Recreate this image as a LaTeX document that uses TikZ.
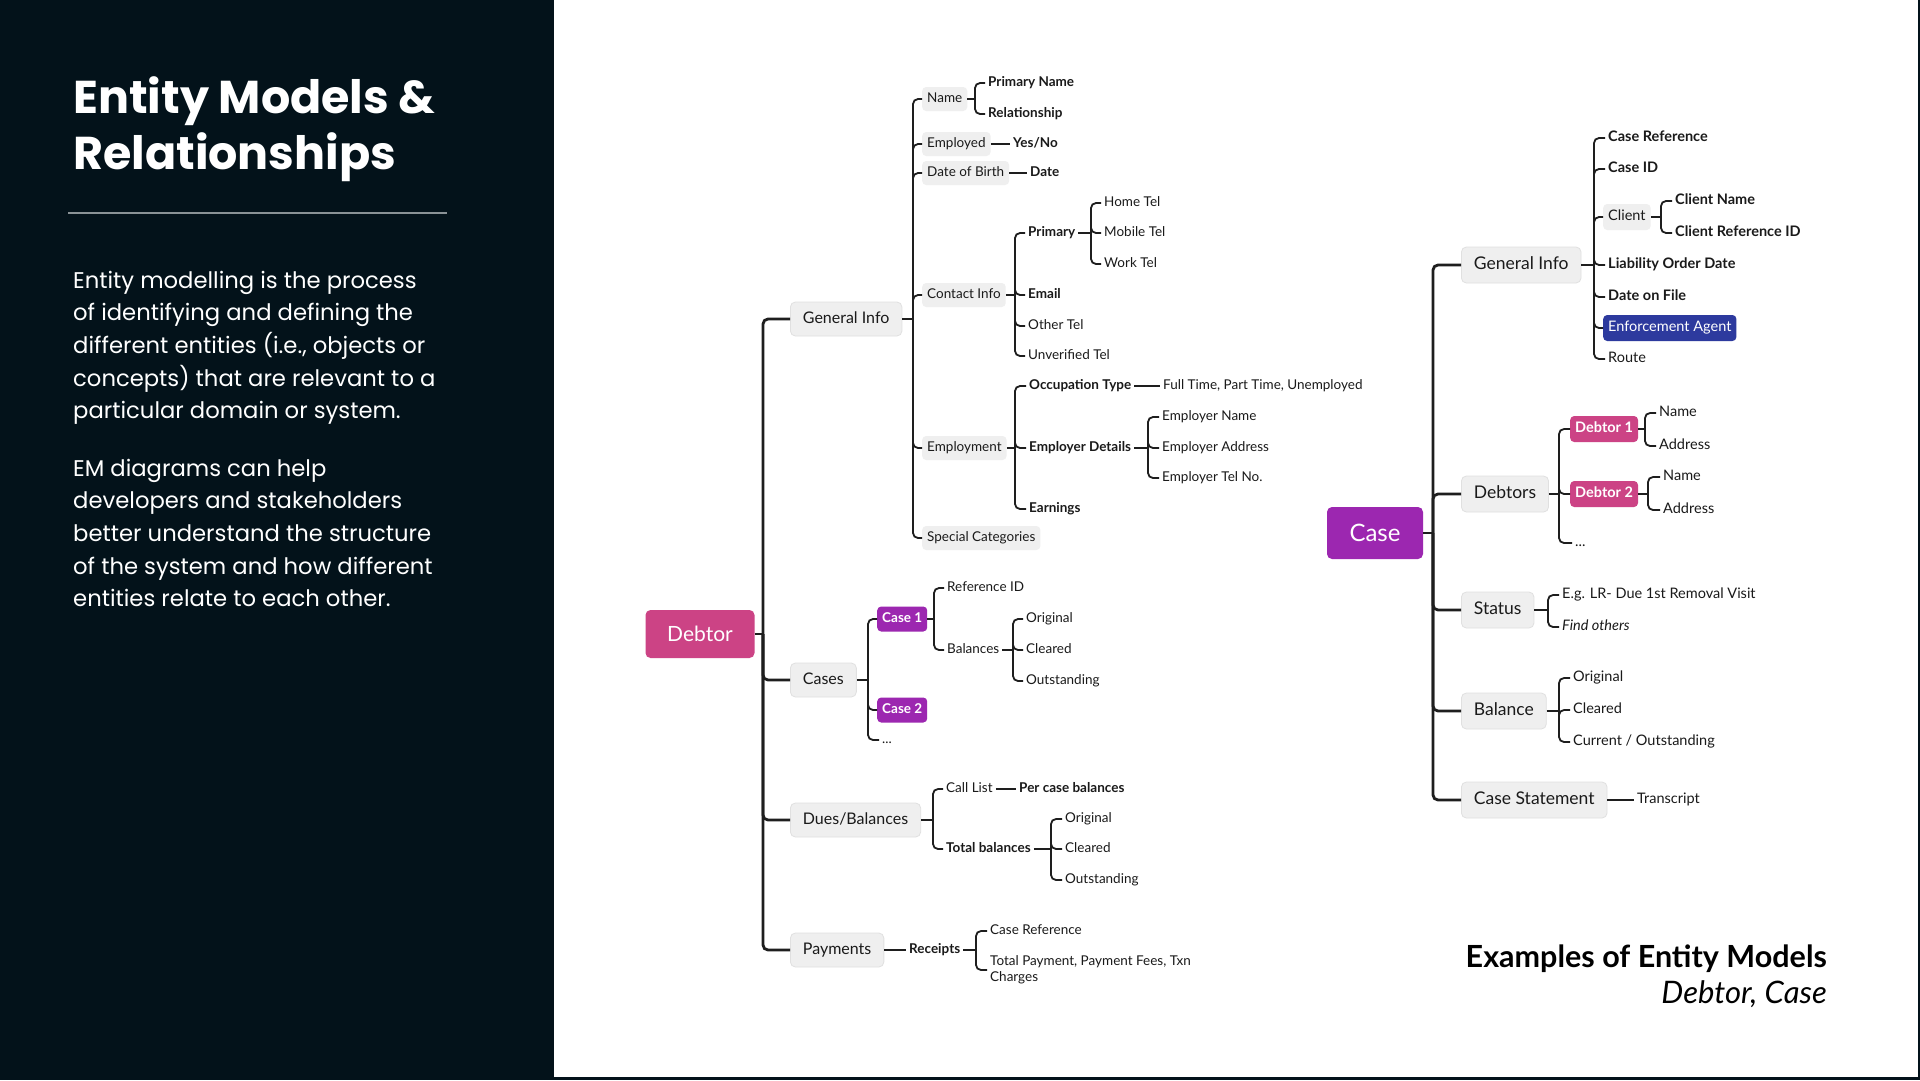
\documentclass[tikz,border=0pt]{standalone}
\usepackage{fontspec}
\setmainfont{Lato}
\newfontfamily\sidefont{Poppins}

\definecolor{panel}{HTML}{03121A}
\definecolor{debtorpink}{HTML}{CC4385}
\definecolor{casepurple}{HTML}{9C27B0}
\definecolor{agentblue}{HTML}{2D3A9E}
\definecolor{boxgray}{HTML}{EFEFEF}
\definecolor{boxline}{HTML}{E0E0E0}
\definecolor{linecol}{HTML}{1E1E1E}
\definecolor{rulegray}{HTML}{8A9296}
\definecolor{textdark}{HTML}{1A1A1A}

\begin{document}
\begin{tikzpicture}[x=1pt, y=-1pt,
	link/.style={draw=linecol, line width=1.8pt, rounded corners=5pt},
	trunk/.style={link, line width=2.8pt},
	rootbox/.style={rounded corners=5pt, text=white, font=\fontsize{21}{24}\selectfont},
	topicbox/.style={anchor=west, fill=boxgray, draw=boxline, line width=.8pt, rounded corners=5pt,
		minimum height=34pt, inner xsep=12.5pt, text=textdark, font=\fontsize{16}{19}\selectfont,
		text height=12pt, text depth=3.5pt},
	subtopic/.style={anchor=west, fill=boxgray, rounded corners=4pt, minimum height=24pt, inner xsep=5pt,
		text=textdark, font=\fontsize{13.5}{16}\selectfont, text height=10pt, text depth=3pt},
	leaf/.style={anchor=west, inner xsep=3pt, inner ysep=1pt, text=textdark,
		font=\fontsize{13.5}{16}\selectfont, text height=10pt, text depth=3pt},
	boldleaf/.style={leaf, font=\fontsize{13.5}{16}\selectfont\bfseries},
	tagbox/.style={anchor=west, rounded corners=4pt, text=white, minimum height=25pt, inner xsep=5pt,
		font=\fontsize{13.5}{16}\selectfont\bfseries, text height=10pt, text depth=3pt},
	sidebody/.style={anchor=base west, inner sep=0pt, text=white, font=\sidefont\fontsize{22.7}{33}\selectfont},
]

	% Page
	\useasboundingbox (0,0) rectangle (1920,1080);
	\fill[panel] (0,0) rectangle (1920,1080);
	\fill[white] (554,0) rectangle (1918,1077);

	% Side panel
	\node[anchor=base west, inner sep=0pt, text=white, font=\sidefont\bfseries\fontsize{46}{56}\selectfont] (title1) at (73,113) {Entity Models \&};
	\node[anchor=base west, inner sep=0pt, text=white, font=\sidefont\bfseries\fontsize{46}{56}\selectfont] (title2) at (73,169) {Relationships};
	\draw[rulegray, line width=1.5pt] (68,213) -- (447,213);
	\foreach \t [count=\i] in {Entity modelling is the process, of identifying and defining the,
		{different entities (i.e., objects or}, concepts) that are relevant to a, particular domain or system.} {
		\node[sidebody] (pa\i) at (73,{288+32.7*(\i-1)}) {\t};
	}
	\foreach \t [count=\i] in {EM diagrams can help, developers and stakeholders, better understand the structure,
		of the system and how different, entities relate to each other.} {
		\node[sidebody] (pb\i) at (73,{476+32.7*(\i-1)}) {\t};
	}

	% Debtor model
	\node[rootbox, fill=debtorpink, minimum width=109pt, minimum height=48pt] (debtor) at (700,634) {Debtor};
	\coordinate (debtor-b) at (763,634);
	\node[topicbox] (gi) at (790,319) {General Info};
	\node[topicbox] (cases) at (790,680) {Cases};
	\node[topicbox] (dues) at (790,820) {Dues/Balances};
	\node[topicbox] (pay) at (790,950) {Payments};
	\draw[trunk] (debtor.east) -- (debtor-b);
	\foreach \c in {gi,cases,dues,pay} {
		\draw[trunk] (debtor-b) |- (\c.west);
	}

	% General Info
	\coordinate (gi-b) at (913,319);
	\node[subtopic] (name) at (922,99) {Name};
	\node[subtopic] (empd) at (922,144) {Employed};
	\node[subtopic] (dob) at (922,173) {Date of Birth};
	\node[subtopic] (cinfo) at (922,295) {Contact Info};
	\node[subtopic] (empl) at (922,448) {Employment};
	\node[subtopic] (spec) at (922,538) {Special Categories};
	\draw[link] (gi.east) -- (gi-b);
	\foreach \c in {name,empd,dob,cinfo,empl,spec} {
		\draw[link] (gi-b) |- (\c.west);
	}

	\coordinate (name-b) at (975,99);
	\node[boldleaf] (pname) at (985,83) {Primary Name};
	\node[boldleaf] (rel) at (985,114) {Relationship};
	\draw[link] (name.east) -- (name-b);
	\foreach \c in {pname,rel} {
		\draw[link] (name-b) |- (\c.west);
	}
	\node[boldleaf] (yesno) at (1010,144) {Yes/No};
	\draw[link] (empd.east) -- (yesno.west);
	\node[boldleaf] (date) at (1027,173) {Date};
	\draw[link] (dob.east) -- (date.west);

	\coordinate (cinfo-b) at (1015,295);
	\node[boldleaf] (prim) at (1025,233) {Primary};
	\node[boldleaf] (email) at (1025,295) {Email};
	\node[leaf] (otel) at (1025,326) {Other Tel};
	\node[leaf] (utel) at (1025,356) {Unverified Tel};
	\draw[link] (cinfo.east) -- (cinfo-b);
	\foreach \c in {prim,email,otel,utel} {
		\draw[link] (cinfo-b) |- (\c.west);
	}
	\coordinate (prim-b) at (1091,233);
	\node[leaf] (htel) at (1101,203) {Home Tel};
	\node[leaf] (mtel) at (1101,233) {Mobile Tel};
	\node[leaf] (wtel) at (1101,264) {Work Tel};
	\draw[link] (prim.east) -- (prim-b);
	\foreach \c in {htel,mtel,wtel} {
		\draw[link] (prim-b) |- (\c.west);
	}

	\coordinate (empl-b) at (1015,448);
	\node[boldleaf] (occ) at (1026,386) {Occupation Type};
	\node[boldleaf] (edet) at (1026,448) {Employer Details};
	\node[boldleaf] (earn) at (1026,509) {Earnings};
	\draw[link] (empl.east) -- (empl-b);
	\foreach \c in {occ,edet,earn} {
		\draw[link] (empl-b) |- (\c.west);
	}
	\node[leaf] (ftime) at (1160,386) {Full Time, Part Time, Unemployed};
	\draw[link] (occ.east) -- (ftime.west);
	\coordinate (edet-b) at (1148,448);
	\node[leaf] (ename) at (1159,417) {Employer Name};
	\node[leaf] (eaddr) at (1159,448) {Employer Address};
	\node[leaf] (etel) at (1159,478) {Employer Tel No.};
	\draw[link] (edet.east) -- (edet-b);
	\foreach \c in {ename,eaddr,etel} {
		\draw[link] (edet-b) |- (\c.west);
	}

	% Cases
	\coordinate (cases-b) at (868,680);
	\node[tagbox, fill=casepurple] (case1) at (877,619) {Case 1};
	\node[tagbox, fill=casepurple] (case2) at (877,710) {Case 2};
	\node[leaf] (cmore) at (879,740) {...};
	\draw[link] (cases.east) -- (cases-b);
	\foreach \c in {case1,case2,cmore} {
		\draw[link] (cases-b) |- (\c.west);
	}
	\coordinate (case1-b) at (934,619);
	\node[leaf] (refid) at (944,588) {Reference ID};
	\node[leaf] (bal) at (944,650) {Balances};
	\draw[link] (case1.east) -- (case1-b);
	\foreach \c in {refid,bal} {
		\draw[link] (case1-b) |- (\c.west);
	}
	\coordinate (bal-b) at (1013,650);
	\node[leaf] (orig1) at (1023,619) {Original};
	\node[leaf] (clr1) at (1023,650) {Cleared};
	\node[leaf] (outs1) at (1023,681) {Outstanding};
	\draw[link] (bal.east) -- (bal-b);
	\foreach \c in {orig1,clr1,outs1} {
		\draw[link] (bal-b) |- (\c.west);
	}

	% Dues/Balances
	\coordinate (dues-b) at (933,820);
	\node[leaf] (call) at (943,789) {Call List};
	\node[boldleaf] (totb) at (943,849) {Total balances};
	\draw[link] (dues.east) -- (dues-b);
	\foreach \c in {call,totb} {
		\draw[link] (dues-b) |- (\c.west);
	}
	\node[boldleaf] (pcb) at (1016,789) {Per case balances};
	\draw[link] (call.east) -- (pcb.west);
	\coordinate (totb-b) at (1051,849);
	\node[leaf] (orig2) at (1062,819) {Original};
	\node[leaf] (clr2) at (1062,849) {Cleared};
	\node[leaf] (outs2) at (1062,880) {Outstanding};
	\draw[link] (totb.east) -- (totb-b);
	\foreach \c in {orig2,clr2,outs2} {
		\draw[link] (totb-b) |- (\c.west);
	}

	% Payments
	\node[boldleaf] (rcpt) at (906,950) {Receipts};
	\draw[link] (pay.east) -- (rcpt.west);
	\coordinate (rcpt-b) at (976,950);
	\node[leaf] (cref) at (987,931) {Case Reference};
	\node[leaf, align=left, text height=26pt] (tpay) at (987,970) {Total Payment, Payment Fees, Txn\\Charges};
	\draw[link] (rcpt.east) -- (rcpt-b);
	\foreach \c in {cref,tpay} {
		\draw[link] (rcpt-b) |- (\c.west);
	}

	% Case model
	\begin{scope}[
		topicbox/.append style={minimum height=36pt, font=\fontsize{17.5}{20}\selectfont},
		subtopic/.append style={minimum height=26pt, font=\fontsize{14.5}{17}\selectfont},
		leaf/.append style={font=\fontsize{14.5}{17}\selectfont},
		boldleaf/.append style={font=\fontsize{14.5}{17}\selectfont\bfseries},
		tagbox/.append style={minimum height=26pt, font=\fontsize{14.5}{17}\selectfont\bfseries},
	]
	\node[rootbox, fill=casepurple, minimum width=96pt, minimum height=52pt, font=\fontsize{24}{28}\selectfont] (case) at (1375,533) {Case};
	\coordinate (case-b) at (1433,533);
	\node[topicbox] (gi2) at (1461,265) {General Info};
	\node[topicbox] (dbts) at (1461,494) {Debtors};
	\node[topicbox] (stat) at (1461,610) {Status};
	\node[topicbox] (balc) at (1461,711) {Balance};
	\node[topicbox] (cstat) at (1461,800) {Case Statement};
	\draw[trunk] (case.east) -- (case-b);
	\foreach \c in {gi2,dbts,stat,balc,cstat} {
		\draw[trunk] (case-b) |- (\c.west);
	}

	% General Info
	\coordinate (gi2-b) at (1594,265);
	\node[boldleaf] (cref2) at (1605,138) {Case Reference};
	\node[boldleaf] (cid) at (1605,169) {Case ID};
	\node[subtopic] (client) at (1603,217) {Client};
	\node[boldleaf] (lod) at (1605,265) {Liability Order Date};
	\node[boldleaf] (dof) at (1605,297) {Date on File};
	\node[tagbox, fill=agentblue, font=\fontsize{14.5}{17}\selectfont] (agent) at (1603,328) {Enforcement Agent};
	\node[leaf] (route) at (1605,359) {Route};
	\draw[link] (gi2.east) -- (gi2-b);
	\foreach \c in {cref2,cid,client,lod,dof,agent,route} {
		\draw[link] (gi2-b) |- (\c.west);
	}
	\coordinate (client-b) at (1661,217);
	\node[boldleaf] (cname) at (1672,201) {Client Name};
	\node[boldleaf] (crefid) at (1672,233) {Client Reference ID};
	\draw[link] (client.east) -- (client-b);
	\foreach \c in {cname,crefid} {
		\draw[link] (client-b) |- (\c.west);
	}

	% Debtors
	\coordinate (dbts-b) at (1559,494);
	\node[tagbox, fill=debtorpink] (deb1) at (1570,429) {Debtor 1};
	\node[tagbox, fill=debtorpink] (deb2) at (1570,494) {Debtor 2};
	\node[leaf] (dmore) at (1572,543) {...};
	\draw[link] (dbts.east) -- (dbts-b);
	\foreach \c in {deb1,deb2,dmore} {
		\draw[link] (dbts-b) |- (\c.west);
	}
	\coordinate (deb1-b) at (1645,429);
	\node[leaf] (dn1) at (1656,413) {Name};
	\node[leaf] (da1) at (1656,446) {Address};
	\draw[link] (deb1.east) -- (deb1-b);
	\foreach \c in {dn1,da1} {
		\draw[link] (deb1-b) |- (\c.west);
	}
	\coordinate (deb2-b) at (1648,494);
	\node[leaf] (dn2) at (1660,477) {Name};
	\node[leaf] (da2) at (1660,510) {Address};
	\draw[link] (deb2.east) -- (deb2-b);
	\foreach \c in {dn2,da2} {
		\draw[link] (deb2-b) |- (\c.west);
	}

	% Status, Balance, Statement
	\coordinate (stat-b) at (1548,610);
	\node[leaf] (eg) at (1559,595) {E.g. LR- Due 1st Removal Visit};
	\node[leaf, font=\fontsize{14.5}{17}\selectfont\itshape] (fo) at (1559,627) {Find others};
	\draw[link] (stat.east) -- (stat-b);
	\foreach \c in {eg,fo} {
		\draw[link] (stat-b) |- (\c.west);
	}
	\coordinate (balc-b) at (1559,711);
	\node[leaf] (bo) at (1570,678) {Original};
	\node[leaf] (bc) at (1570,710) {Cleared};
	\node[leaf] (bco) at (1570,742) {Current / Outstanding};
	\draw[link] (balc.east) -- (balc-b);
	\foreach \c in {bo,bc,bco} {
		\draw[link] (balc-b) |- (\c.west);
	}
	\node[leaf] (trans) at (1634,800) {Transcript};
	\draw[link] (cstat.east) -- (trans.west);
	\end{scope}

	% Caption
	\node[anchor=base east, inner sep=0pt, text=black, font=\fontsize{30.5}{34}\selectfont\bfseries] (capt) at (1827,967) {Examples of Entity Models};
	\node[anchor=base east, inner sep=0pt, text=black, font=\fontsize{31}{34}\selectfont\itshape] (capsub) at (1827,1003) {Debtor, Case};

\end{tikzpicture}
\end{document}
